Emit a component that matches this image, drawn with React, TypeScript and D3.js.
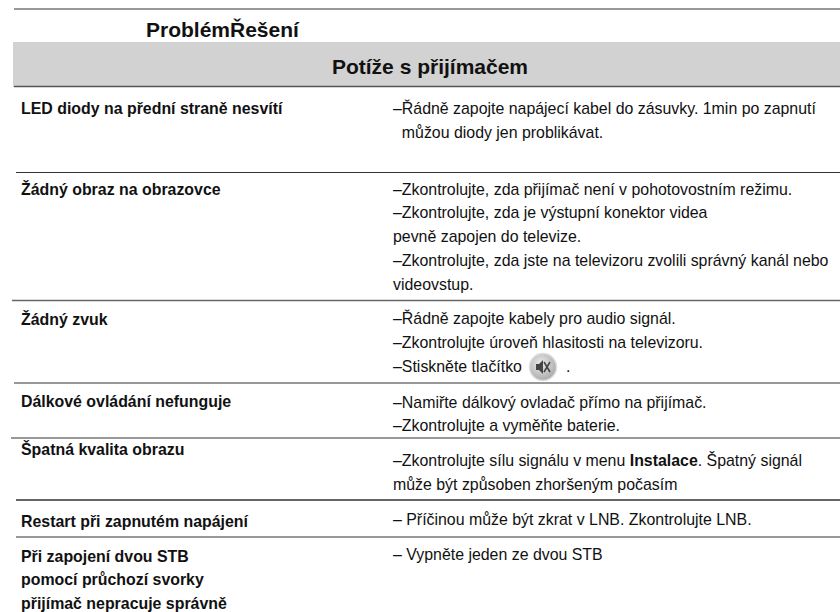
import * as React from 'react';
import * as d3 from 'd3';

const headerLabel = 'ProblémŘešení';
const sectionTitle = 'Potíže s přijímačem';

const problems: string[] = [
  'LED diody na přední straně nesvítí',
  'Žádný obraz na obrazovce',
  'Žádný zvuk',
  'Dálkové ovládání nefunguje',
  'Špatná kvalita obrazu',
  'Restart při zapnutém napájení',
  'Při zapojení dvou STB',
  'pomocí průchozí svorky',
  'přijímač nepracuje správně',
];
const problemY = [114, 195, 325, 407, 455, 527, 562, 585, 609];

const solutions: string[] = [
  '–Řádně zapojte napájecí kabel do zásuvky. 1min po zapnutí',
  '  můžou diody jen problikávat.',
  '–Zkontrolujte, zda přijímač není v pohotovostním režimu.',
  '–Zkontrolujte, zda je výstupní konektor videa',
  'pevně zapojen do televize.',
  '–Zkontrolujte, zda jste na televizoru zvolili správný kanál nebo',
  'videovstup.',
  '–Řádně zapojte kabely pro audio signál.',
  '–Zkontrolujte úroveň hlasitosti na televizoru.',
  '–Stiskněte tlačítko',
  '–Namiřte dálkový ovladač přímo na přijímač.',
  '–Zkontrolujte a vyměňte baterie.',
  '–Zkontrolujte sílu signálu v menu |Instalace|. Špatný signál',
  'může být způsoben zhoršeným počasím',
  '– Příčinou může být zkrat v LNB. Zkontrolujte LNB.',
  '– Vypněte jeden ze dvou STB',
];
const solutionY = [114, 138, 195, 218, 242, 266, 290, 324, 348, 372, 408, 431, 466, 490, 525, 560];

const ruleY = [9, 172.5, 300.5, 383, 438, 500, 537];
const ruleX = [14, 16, 12, 14, 11, 16, 16];
const ruleW = [1, 1, 1.5, 1, 1, 2, 1];

export default function App() {
  const ref = React.useRef<SVGSVGElement | null>(null);

  React.useEffect(() => {
    if (!ref.current) return;
    const svg = d3.select(ref.current);
    svg.selectAll('*').remove();

    const font = 'Liberation Sans, Arial, sans-serif';

    const grad = svg.append('defs').append('radialGradient').attr('id', 'muteFill')
      .attr('cx', '42%').attr('cy', '38%').attr('r', '65%');
    grad.append('stop').attr('offset', '0%').attr('stop-color', '#ececec');
    grad.append('stop').attr('offset', '100%').attr('stop-color', '#a8a8a8');

    svg.append('rect').attr('x', 13).attr('y', 42).attr('width', 827).attr('height', 45).attr('fill', '#d2d2d2');
    svg.append('line').attr('x1', 14).attr('x2', 840).attr('y1', 86.5).attr('y2', 86.5)
      .attr('stroke', '#555').attr('stroke-width', 1.5);

    svg.selectAll('line.rule').data(ruleY).join('line').attr('class', 'rule')
      .attr('x1', (_, i) => ruleX[i]).attr('x2', 840)
      .attr('y1', d => d).attr('y2', d => d)
      .attr('stroke', (_, i) => (ruleW[i] > 1 ? '#666' : '#333'))
      .attr('stroke-width', (_, i) => ruleW[i]);

    svg.append('text').attr('x', 146).attr('y', 37).attr('font-family', font)
      .attr('font-size', 21).attr('font-weight', 700).attr('fill', '#111').text(headerLabel);
    svg.append('text').attr('x', 430).attr('y', 74).attr('text-anchor', 'middle').attr('font-family', font)
      .attr('font-size', 21).attr('font-weight', 700).attr('fill', '#111').text(sectionTitle);

    svg.selectAll('text.problem').data(problems).join('text').attr('class', 'problem')
      .attr('x', 21).attr('y', (_, i) => problemY[i]).attr('font-family', font)
      .attr('font-size', 15.9).attr('font-weight', 700).attr('fill', '#111').text(d => d);

    solutions.forEach((l, i) => {
      const t = svg.append('text').attr('x', 393).attr('y', solutionY[i]).attr('font-family', font)
        .attr('font-size', 15.9).attr('fill', '#111').style('white-space', 'pre');
      l.split('|').forEach((part, k) => {
        t.append('tspan').attr('font-weight', k === 1 ? 700 : 400).text(part);
      });
    });

    // mute button icon
    const icon = svg.append('g').attr('transform', 'translate(543,367)');
    icon.append('circle').attr('r', 13.5).attr('fill', 'url(#muteFill)').attr('stroke', '#ddd').attr('stroke-width', 1.5);
    icon.append('path').attr('d', 'M-7,-3 L-4,-3 L0,-7 L0,7 L-4,3 L-7,3 Z').attr('fill', '#444');
    icon.append('path').attr('d', 'M1,-5 L7,5 M7,-5 L1,5').attr('stroke', '#444').attr('stroke-width', 1.6);
    svg.append('text').attr('x', 566).attr('y', 372).attr('font-family', font).attr('font-size', 15.9).attr('fill', '#111').text('.');
  }, []);

  return <svg ref={ref} width={840} height={612} style={{ position: 'absolute', left: 0, top: 0 }} />;
}
